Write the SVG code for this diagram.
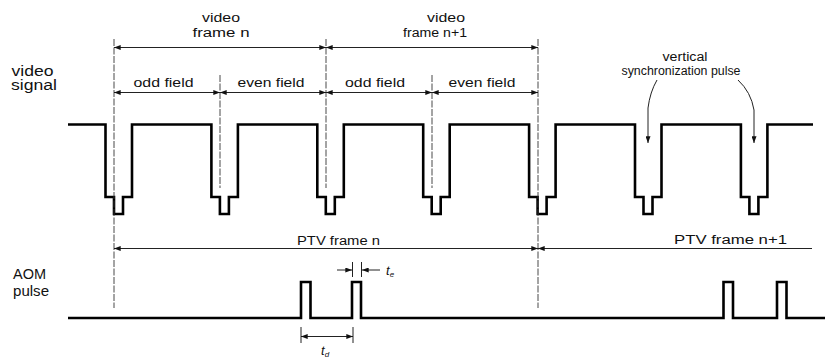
<svg xmlns="http://www.w3.org/2000/svg" width="825" height="362" viewBox="0 0 825 362">
<style>
  text { font-family: "Liberation Sans", Arial, sans-serif; fill: #111; }
  .lbl { font-size: 14px; }
  .sm { font-size: 12.5px; }
  .vs { font-size: 12px; }
  .it { font-style: italic; font-size: 13px; }
  .sub { font-style: italic; font-size: 8px; }
  .sig { fill: none; stroke: #000; stroke-width: 2.6; stroke-linejoin: miter; }
  .dim { fill: none; stroke: #222; stroke-width: 1; }
  .guide { fill: none; stroke: #333; stroke-width: 0.9; stroke-dasharray: 7 1.5; }
</style>
<defs>
  <marker id="ah" viewBox="0 0 8 6" refX="8" refY="3" markerWidth="7" markerHeight="5" markerUnits="userSpaceOnUse" orient="auto-start-reverse">
    <path d="M0,0 L8,3 L0,6 z" fill="#111"/>
  </marker>
</defs>
<rect width="825" height="362" fill="#fff"/>

<g id="labels-left">
  <text class="lbl" x="11.5" y="75.5" textLength="42" lengthAdjust="spacingAndGlyphs">video</text>
  <text class="lbl" x="11" y="90" textLength="46" lengthAdjust="spacingAndGlyphs">signal</text>
  <text class="lbl" x="13" y="279" textLength="33" lengthAdjust="spacingAndGlyphs">AOM</text>
  <text class="lbl" x="13" y="295.5" textLength="36" lengthAdjust="spacingAndGlyphs">pulse</text>
</g>

<g id="video-signal">
  <path class="sig" d="M68,124.5 H105.5 V197 H114 V214 H123 V197 H132 V124.5 H211.4 V197 H219.9 V214 H228.9 V197 H237.9 V124.5 H317.3 V197 H325.8 V214 H334.8 V197 H343.8 V124.5 H423.2 V197 H431.7 V214 H440.7 V197 H449.7 V124.5 H529.1 V197 H537.6 V214 H546.6 V197 H555.6 V124.5 H635 V197 H643.5 V214 H652.5 V197 H661.5 V124.5 H740.9 V197 H749.4 V214 H758.4 V197 H767.4 V124.5 H813"/>
</g>

<g id="aom-pulse">
  <path class="sig" d="M68,318 H301 V282 H310.5 V318 H352 V282 H361 V318 H723.5 V282 H733 V318 H777 V282 H786.5 V318 H825"/>
</g>

<g id="guides">
  <line class="guide" x1="114" y1="39" x2="114" y2="308"/>
  <line class="guide" x1="220" y1="75" x2="220" y2="188"/>
  <line class="guide" x1="326" y1="39" x2="326" y2="188"/>
  <line class="guide" x1="432" y1="75" x2="432" y2="188"/>
  <line class="guide" x1="538" y1="39" x2="538" y2="308"/>
  <line class="dim" x1="352.5" y1="262" x2="352.5" y2="277"/>
  <line class="dim" x1="361.5" y1="262" x2="361.5" y2="277"/>
  <line class="dim" x1="301" y1="327" x2="301" y2="343"/>
  <line class="dim" x1="353" y1="327" x2="353" y2="343"/>
</g>

<g id="frame-n">
  <text class="sm" x="221" y="21.5" text-anchor="middle" textLength="38" lengthAdjust="spacingAndGlyphs">video</text>
  <text class="sm" x="221" y="36.5" text-anchor="middle" textLength="57" lengthAdjust="spacingAndGlyphs">frame n</text>
</g>
<g id="frame-n1">
  <text class="sm" x="446" y="21.5" text-anchor="middle" textLength="38" lengthAdjust="spacingAndGlyphs">video</text>
  <text class="sm" x="435" y="36.5" text-anchor="middle" textLength="64" lengthAdjust="spacingAndGlyphs">frame n+1</text>
</g>
<g id="fields">
  <text class="sm" x="163.5" y="87" text-anchor="middle" textLength="60" lengthAdjust="spacingAndGlyphs">odd field</text>
  <text class="sm" x="271" y="87" text-anchor="middle" textLength="67" lengthAdjust="spacingAndGlyphs">even field</text>
  <text class="sm" x="375" y="87" text-anchor="middle" textLength="60" lengthAdjust="spacingAndGlyphs">odd field</text>
  <text class="sm" x="482" y="87" text-anchor="middle" textLength="67" lengthAdjust="spacingAndGlyphs">even field</text>
</g>
<g id="vsync-label">
  <text class="vs" x="685" y="61" text-anchor="middle" textLength="45" lengthAdjust="spacingAndGlyphs">vertical</text>
  <text class="vs" x="681" y="75" text-anchor="middle" textLength="119" lengthAdjust="spacingAndGlyphs">synchronization pulse</text>
</g>
<g id="ptv-frames">
  <text class="sm" x="338.5" y="245" text-anchor="middle" textLength="83" lengthAdjust="spacingAndGlyphs">PTV frame n</text>
  <text class="sm" x="730.5" y="244" text-anchor="middle" textLength="113" lengthAdjust="spacingAndGlyphs">PTV frame n+1</text>
</g>
<g id="te-label">
  <text class="it" x="386" y="275">t<tspan class="sub" dy="2">e</tspan></text>
</g>
<g id="td-label">
  <text class="it" x="321" y="355">t<tspan class="sub" dy="2">d</tspan></text>
</g>

<g id="connectors" class="dim">
  <line x1="114" y1="47.5" x2="326" y2="47.5" marker-start="url(#ah)" marker-end="url(#ah)"/>
  <line x1="326" y1="47.5" x2="538" y2="47.5" marker-start="url(#ah)" marker-end="url(#ah)"/>
  <line x1="114" y1="92.5" x2="220" y2="92.5" marker-start="url(#ah)" marker-end="url(#ah)"/>
  <line x1="220" y1="92.5" x2="326" y2="92.5" marker-start="url(#ah)" marker-end="url(#ah)"/>
  <line x1="326" y1="92.5" x2="432" y2="92.5" marker-start="url(#ah)" marker-end="url(#ah)"/>
  <line x1="432" y1="92.5" x2="538" y2="92.5" marker-start="url(#ah)" marker-end="url(#ah)"/>
  <line x1="114" y1="248.5" x2="538" y2="248.5" marker-start="url(#ah)" marker-end="url(#ah)"/>
  <line x1="538" y1="248.5" x2="812" y2="248.5" marker-start="url(#ah)"/>
  <path d="M657,80 Q650,92 648,108 L648,143" marker-end="url(#ah)"/>
  <path d="M738,80 Q751,92 754,110 L754,143" marker-end="url(#ah)"/>
  <line x1="337" y1="270" x2="352" y2="270" marker-end="url(#ah)"/>
  <line x1="380" y1="270" x2="362" y2="270" marker-end="url(#ah)"/>
  <line x1="301" y1="336.5" x2="353" y2="336.5" marker-start="url(#ah)" marker-end="url(#ah)"/>
</g>
</svg>
